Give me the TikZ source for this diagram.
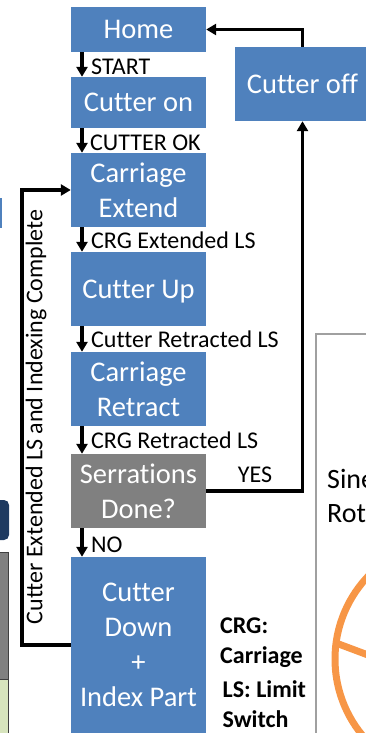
\documentclass[tikz,border=0pt]{standalone}
\usepackage{fontspec}
\setmainfont{Carlito}[Ligatures=NoCommon]
\usetikzlibrary{arrows.meta}
\definecolor{boxblue}{HTML}{4F81BD}
\definecolor{boxgray}{HTML}{808080}
\definecolor{navy}{HTML}{1F3A60}
\definecolor{panelgray}{HTML}{A0A0A0}
\definecolor{paleolive}{HTML}{D7E4BD}
\definecolor{edgegray}{HTML}{3F3F3F}
\definecolor{wheelorange}{HTML}{F79646}
\begin{document}
\begin{tikzpicture}[x=1pt,y=1pt,
  stepbox/.style={fill=boxblue, text=white, minimum width=135pt, inner sep=0pt,
    align=center, font=\fontsize{28.5}{35}\selectfont},
  flow/.style={line width=3.5pt, -{Triangle[width=11pt,length=10pt]}},
  cond/.style={font=\fontsize{24}{28}\selectfont, anchor=base west, inner sep=0pt},
  note/.style={font=\bfseries\fontsize{24}{28}\selectfont, anchor=base west, inner sep=0pt}]
\useasboundingbox (0,0) rectangle (366,-733);
\clip (0,0) rectangle (366,-733);

% neighbouring slide content at the edges
\fill[boxblue] (-10,-198) rectangle (2,-228);
\fill[navy, rounded corners=5pt] (-20,-500) rectangle (9,-540);
\filldraw[fill=boxgray, draw=edgegray, line width=0.8pt] (-20,-552) rectangle (8.5,-679);
\filldraw[fill=paleolive, draw=edgegray, line width=0.8pt] (-20,-679) rectangle (8.5,-760);
\draw[panelgray, line width=1.2pt] (316,-334) rectangle (430,-770);
\node[font=\fontsize{28}{34}\selectfont, anchor=base west, inner sep=0pt] (sine) at (327,-488) {Sine};
\node[font=\fontsize{28}{34}\selectfont, anchor=base west, inner sep=0pt] (rot) at (327,-522) {Rot};
\draw[wheelorange, line width=7pt] (455,-659) circle (120);
\draw[wheelorange, line width=7pt] (336,-643) -- (400,-667);

% state boxes
\node[stepbox, minimum height=45pt] (home) at (138.5,-29.5) {Home};
\node[stepbox, minimum height=51pt] (con) at (138.5,-102.5) {Cutter on};
\node[stepbox, minimum height=74pt] (cext) at (138.5,-190) {Carriage\\Extend};
\node[stepbox, minimum height=74pt, text depth=0pt] (cup) at (138.5,-289) {Cutter Up};
\node[stepbox, minimum height=74pt] (cret) at (138.5,-389) {Carriage\\Retract};
\node[stepbox, minimum height=74pt, fill=boxgray] (serr) at (138.5,-491) {Serrations\\Done?};
\node[stepbox, minimum height=176pt] (cdown) at (138.5,-645) {Cutter\\Down\\+\\Index Part};
\node[stepbox, minimum height=74pt] (coff) at (302.5,-84) {Cutter off};

% transitions
\draw[flow] (home.south -| 82,0) -- (con.north -| 82,0);
\draw[flow] (con.south -| 82,0) -- (cext.north -| 82,0);
\draw[flow] (cext.south -| 82,0) -- (cup.north -| 82,0);
\draw[flow] (cup.south -| 82,0) -- (cret.north -| 82,0);
\draw[flow] (cret.south -| 82,0) -- (serr.north -| 82,0);
\draw[flow] (serr.south -| 82,0) -- (cdown.north -| 82,0);
\draw[flow] (serr.east) -| (coff.south);
\draw[flow] (coff.north) |- (home.east);
\coordinate (loopx) at (22,-417);
\draw[flow] (cdown.west) -| (loopx) |- (cext.west);

% transition labels
\node[cond] (lstart) at (91,-75) {START};
\node[cond] (lok) at (90,-150) {CUTTER OK};
\node[cond] (lcrgext) at (91,-248) {CRG Extended LS};
\node[cond] (lcutret) at (91,-347) {Cutter Retracted LS};
\node[cond] (lcrgret) at (91,-448) {CRG Retracted LS};
\node[cond] (lno) at (91,-552) {NO};
\node[cond, anchor=base] (lyes) at (255,-482) {YES};
\node[font=\fontsize{24}{28}\selectfont, rotate=90, inner sep=0pt] (lloop) at (36,-417)
  {Cutter Extended LS and Indexing Complete};

% abbreviations
\node[note] (n1) at (220,-633) {CRG:};
\node[note] (n2) at (220,-663) {Carriage};
\node[note] (n3) at (222.5,-697) {LS: Limit};
\node[note] (n4) at (222.5,-727) {Switch};
\end{tikzpicture}
\end{document}
